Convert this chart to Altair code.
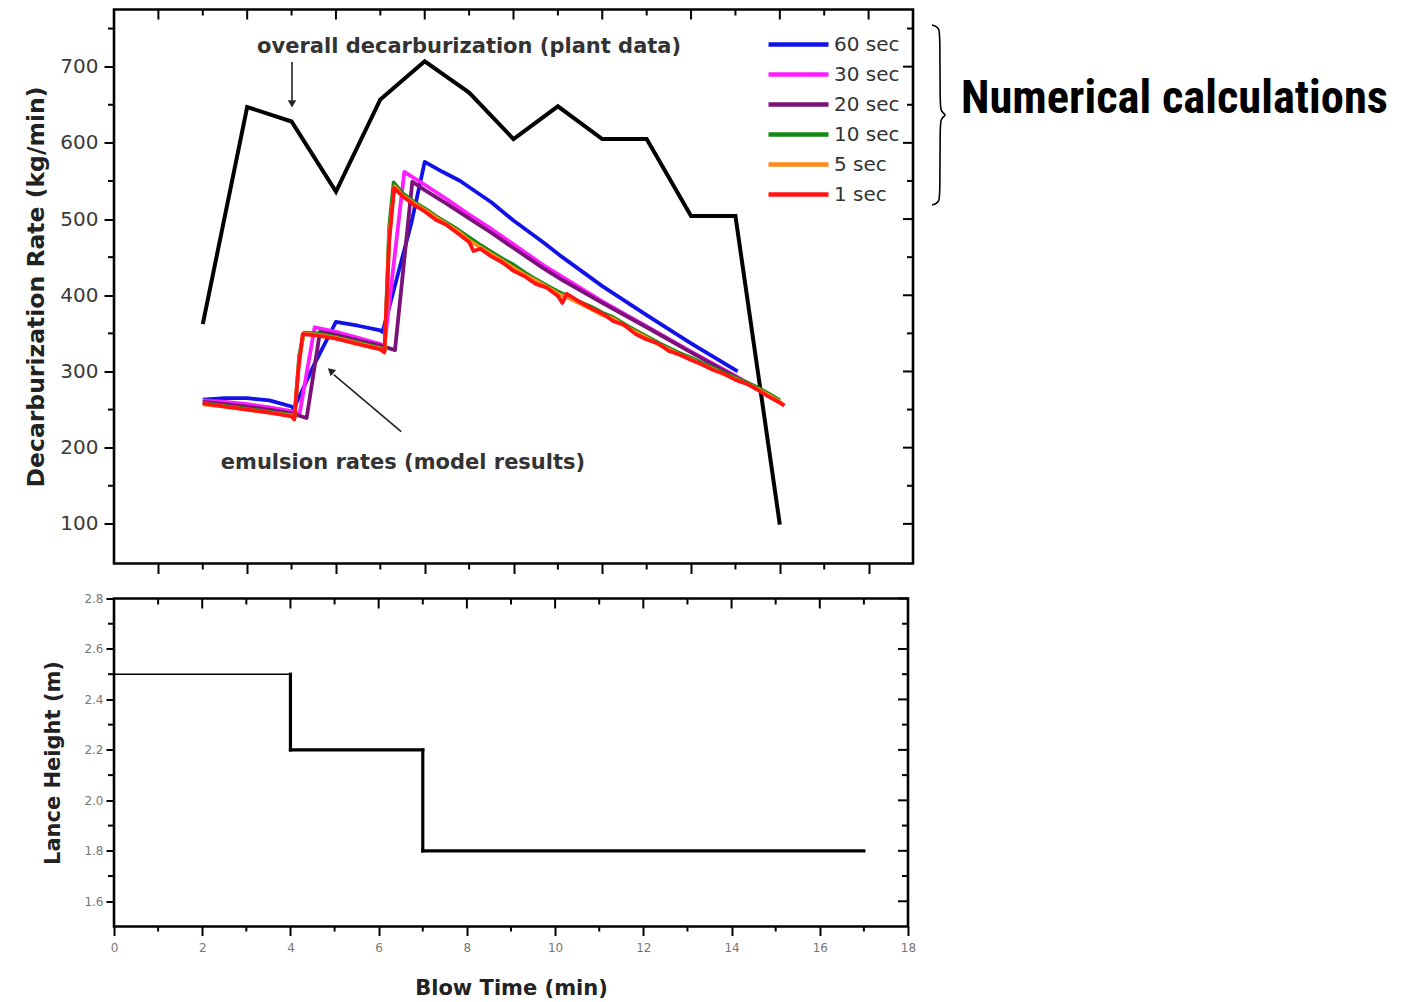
import altair as alt
import pandas as pd

# ---------------- data ----------------
# overall decarburization rate from plant data (kg/min)
PLANT_T = [2, 3, 4, 5, 6, 7, 8, 9, 10, 11, 12, 13, 14, 15]
PLANT_RATE = [362, 647, 628, 536, 657, 707, 666, 605, 648, 605, 605, 504, 504, 99]

# emulsion decarburization rates from the model, per time step
SERIES = ["60 sec", "30 sec", "20 sec", "10 sec", "5 sec", "1 sec"]
COLORS = ["#1212e8", "#ff1cff", "#7a127a", "#138a13", "#ff8a1a", "#ff1414"]

T_60 = [2.0, 2.5, 3.0, 3.5, 4.0, 4.05, 4.5, 5.0, 5.5, 6.0, 6.05, 6.25, 6.7, 7.0,
        7.4, 7.8, 8.5, 9.0, 9.66, 10.1, 11.0, 12.0, 13.0, 14.05]
R_60 = [263, 265, 265, 262, 254, 251, 308, 365, 360, 354, 352, 395, 495, 575,
        562, 550, 522, 498, 470, 450, 412, 374, 337, 300]

T_30 = [2.0, 2.5, 3.0, 3.5, 4.0, 4.18, 4.52, 5.0, 5.5, 6.0, 6.09, 6.54, 7.0, 7.5,
        8.0, 8.5, 9.0, 9.66, 10.1, 11.0, 12.0, 13.0, 14.0, 14.6]
R_30 = [262, 260, 257, 253, 248, 244, 358, 352, 344, 336, 333, 562, 545, 526,
        506, 487, 467, 440, 424, 392, 359, 326, 294, 274]

T_20 = [2.0, 2.5, 3.0, 3.5, 4.0, 4.34, 4.64, 5.0, 5.5, 6.0, 6.33, 6.72, 7.0, 7.5,
        8.0, 8.5, 9.0, 9.66, 10.1, 11.0, 12.0, 13.0, 14.0, 14.75]
R_20 = [260, 257, 254, 250, 245, 239, 352, 348, 341, 334, 328, 549, 538, 520,
        501, 482, 462, 436, 420, 390, 358, 325, 293, 268]

T_10 = [2.0, 2.5, 3.0, 3.5, 4.0, 4.07, 4.17, 4.28, 4.6, 5.0, 5.5, 6.0, 6.1, 6.2,
        6.3, 6.5, 6.75, 7.0, 7.25, 7.5, 7.75, 8.0, 8.25, 8.5, 8.75, 9.0, 9.25,
        9.5, 9.75, 10.0, 10.25, 10.5, 10.75, 11.0, 11.25, 11.5, 11.75, 12.0,
        12.25, 12.5, 12.75, 13.0, 13.25, 13.5, 13.75, 14.0, 14.25, 14.5, 14.75, 15.0]
R_10 = [259, 255, 251, 247, 243, 239, 320, 351, 350, 345, 338, 331, 328, 490,
        548, 534, 523, 514, 504, 495, 486, 476, 466, 457, 448, 440, 430,
        421, 413, 405, 398, 391, 385, 377, 371, 362, 354, 346,
        338, 331, 324, 318, 311, 305, 298, 292, 286, 279, 271, 262]

T_5 = [2.0, 2.5, 3.0, 3.5, 4.0, 4.06, 4.16, 4.27, 4.6, 5.0, 5.5, 6.0, 6.1, 6.2,
       6.32, 6.5, 6.75, 7.0, 7.25, 7.5, 7.75, 8.0, 8.25, 8.5, 8.75, 9.0, 9.25,
       9.5, 9.75, 10.0, 10.25, 10.5, 10.75, 11.0, 11.25, 11.5, 11.75, 12.0,
       12.25, 12.5, 12.75, 13.0, 13.25, 13.5, 13.75, 14.0, 14.25, 14.5, 14.75, 15.0, 15.1]
R_5 = [257, 254, 250, 246, 242, 238, 310, 350, 348, 344, 337, 330, 327, 480,
       543, 531, 521, 512, 502, 493, 484, 472, 463, 454, 445, 436, 427,
       419, 411, 402, 396, 389, 382, 374, 369, 360, 352, 344,
       336, 329, 322, 316, 309, 303, 296, 290, 284, 277, 269, 260, 256]

T_1 = [2.0, 2.5, 3.0, 3.5, 4.0, 4.06, 4.15, 4.25, 4.6, 5.0, 5.5, 6.0, 6.09, 6.2,
       6.31, 6.5, 6.75, 7.0, 7.25, 7.5, 7.75, 8.0, 8.1, 8.25, 8.5, 8.75, 9.0,
       9.25, 9.5, 9.75, 10.0, 10.1, 10.2, 10.5, 10.75, 11.0, 11.25, 11.5, 11.75,
       12.0, 12.25, 12.5, 12.75, 13.0, 13.25, 13.5, 13.75, 14.0, 14.25, 14.5,
       14.75, 15.0, 15.1]
R_1 = [258, 254, 250, 246, 241, 237, 300, 349, 347, 343, 336, 329, 325, 470,
       541, 530, 519, 510, 499, 492, 481, 470, 458, 461, 451, 443, 432,
       425, 415, 410, 399, 390, 402, 391, 383, 376, 366, 361, 349,
       342, 337, 327, 322, 315, 309, 302, 297, 289, 284, 276,
       267, 259, 255]

MODEL = {"60 sec": (T_60, R_60), "30 sec": (T_30, R_30), "20 sec": (T_20, R_20),
         "10 sec": (T_10, R_10), "5 sec": (T_5, R_5), "1 sec": (T_1, R_1)}

# lance height program (m): horizontal segments
LANCE_START = [0, 4, 7]
LANCE_END = [4, 7, 17]
LANCE_HEIGHT = [2.5, 2.2, 1.8]

# axis ticks
TOP_X_MAJOR = [1, 3, 5, 7, 9, 11, 13, 15, 17]
TOP_X_MINOR = [2, 4, 6, 8, 10, 12, 14, 16]
TOP_Y_MAJOR = [100, 200, 300, 400, 500, 600, 700]
TOP_Y_MINOR = [150, 250, 350, 450, 550, 650, 750]
BOT_X_MAJOR = [0, 2, 4, 6, 8, 10, 12, 14, 16, 18]
BOT_X_MINOR = [1, 3, 5, 7, 9, 11, 13, 15, 17]
BOT_Y_MAJOR = [1.6, 1.8, 2.0, 2.2, 2.4, 2.6, 2.8]
BOT_Y_MINOR = [1.7, 1.9, 2.1, 2.3, 2.5, 2.7]

# ---------------- layout constants ----------------
X_DOMAIN = [0, 18]
TOP_Y_DOMAIN = [48, 775]
BOT_Y_DOMAIN = [1.5, 2.8]
TOP_W, TOP_H = 799, 554
BOT_W, BOT_H = 794, 328
FONT = "DejaVu Sans"
MAJ, MIN, TW = 10, 6, 2

xs_top = alt.Scale(domain=X_DOMAIN, nice=False, zero=False)
ys_top = alt.Scale(domain=TOP_Y_DOMAIN, nice=False, zero=False)
xs_bot = alt.Scale(domain=X_DOMAIN, nice=False, zero=False)
ys_bot = alt.Scale(domain=BOT_Y_DOMAIN, nice=False, zero=False)


def px_to_top(px, py):
    """Convert a position inside the upper plot (pixels) to data units."""
    t = px / TOP_W * (X_DOMAIN[1] - X_DOMAIN[0]) + X_DOMAIN[0]
    v = TOP_Y_DOMAIN[1] - py / TOP_H * (TOP_Y_DOMAIN[1] - TOP_Y_DOMAIN[0])
    return t, v


# ---------------- upper panel ----------------
plant_df = pd.DataFrame({"t": PLANT_T, "v": PLANT_RATE})
rows = []
for s in SERIES:
    ts, rs = MODEL[s]
    for i, (t, r) in enumerate(zip(ts, rs)):
        rows.append({"series": s, "t": t, "v": r, "i": i})
model_df = pd.DataFrame(rows)

x_top_axis = alt.Axis(values=TOP_X_MAJOR, labels=False, title=None, domain=False,
                      grid=False, ticks=True, tickSize=MAJ, tickWidth=TW,
                      tickColor="black")
y_top_axis = alt.Axis(values=TOP_Y_MAJOR, title="Decarburization Rate (kg/min)",
                      domain=False, grid=False, ticks=True, tickSize=MAJ,
                      tickWidth=TW, tickColor="black", labelFont=FONT,
                      labelFontSize=20, labelColor="#3a3a3a", labelPadding=6,
                      labelFlush=False,
                      titleFont=FONT, titleFontSize=23.5, titleFontWeight="bold",
                      titleColor="#222", titlePadding=11)

plant = alt.Chart(plant_df).mark_line(color="black", strokeWidth=4,
                                      strokeJoin="miter").encode(
    x=alt.X("t:Q", scale=xs_top, axis=x_top_axis),
    y=alt.Y("v:Q", scale=ys_top, axis=y_top_axis),
)

model = alt.Chart(model_df).mark_line(strokeWidth=3.8, strokeJoin="round").encode(
    x=alt.X("t:Q", scale=xs_top),
    y=alt.Y("v:Q", scale=ys_top),
    color=alt.Color("series:N", sort=SERIES,
                    scale=alt.Scale(domain=SERIES, range=COLORS),
                    legend=alt.Legend(orient="none", legendX=652, legendY=20,
                                      title=None, symbolType="stroke",
                                      symbolSize=3600, symbolStrokeWidth=4.5,
                                      clipHeight=30, rowPadding=0,
                                      labelFont=FONT, labelFontSize=20,
                                      labelColor="#333", labelOffset=3,
                                      padding=0)),
    order=alt.Order("i:Q"),
)

# annotations with arrows
NOTE_TEXT = ["overall decarburization (plant data)", "emulsion rates (model results)"]
NOTE_T = [8.0, 6.51]
NOTE_V = [726, 180]
notes = alt.Chart(pd.DataFrame({"t": NOTE_T, "v": NOTE_V, "txt": NOTE_TEXT})).mark_text(
    font=FONT, fontSize=21, fontWeight="bold", color="#333", baseline="middle"
).encode(x=alt.X("t:Q", scale=xs_top), y=alt.Y("v:Q", scale=ys_top), text="txt:N")

ARROW_T = [4.01, 6.47]
ARROW_V = [706, 221]
ARROW_T2 = [4.01, 4.95]
ARROW_V2 = [656, 296]
shafts = alt.Chart(pd.DataFrame({"t": ARROW_T, "v": ARROW_V, "t2": ARROW_T2,
                                 "v2": ARROW_V2})).mark_rule(
    color="#222", strokeWidth=1.6).encode(
    x=alt.X("t:Q", scale=xs_top), y=alt.Y("v:Q", scale=ys_top), x2="t2:Q", y2="v2:Q")
HEAD_T = [4.01, 4.88]
HEAD_V = [651, 301]
HEAD_ANGLE = [180, 311]
heads = alt.Chart(pd.DataFrame({"t": HEAD_T, "v": HEAD_V, "a": HEAD_ANGLE})).mark_point(
    shape="triangle-up", filled=True, color="#222", size=70, opacity=1).encode(
    x=alt.X("t:Q", scale=xs_top), y=alt.Y("v:Q", scale=ys_top),
    angle=alt.Angle("a:Q", scale=None))


def tick_rules(values, field, scale, a, b, horizontal_axis=True):
    df = pd.DataFrame({field: values})
    if horizontal_axis:
        return alt.Chart(df).mark_rule(color="black", strokeWidth=TW, clip=False).encode(
            x=alt.X(f"{field}:Q", scale=scale), y=alt.value(a), y2=alt.value(b))
    return alt.Chart(df).mark_rule(color="black", strokeWidth=TW, clip=False).encode(
        y=alt.Y(f"{field}:Q", scale=scale), x=alt.value(a), x2=alt.value(b))


top_ticks = [
    tick_rules(TOP_X_MINOR, "t", xs_top, TOP_H, TOP_H + MIN),
    tick_rules(TOP_X_MAJOR, "t", xs_top, 0, MAJ),
    tick_rules(TOP_X_MINOR, "t", xs_top, 0, MIN),
    tick_rules(TOP_Y_MINOR, "v", ys_top, 0, -MIN, horizontal_axis=False),
    tick_rules(TOP_Y_MAJOR, "v", ys_top, TOP_W, TOP_W - MAJ, horizontal_axis=False),
    tick_rules(TOP_Y_MINOR, "v", ys_top, TOP_W, TOP_W - MIN, horizontal_axis=False),
]

# brace and side caption
BRACE_PX = [818, 822, 825, 826, 826, 827, 829, 832, 829, 827, 826, 826, 825, 822, 818]
BRACE_PY = [15.5, 16.5, 19.5, 24.5, 95.5, 100.5, 103.5, 105.5, 107.5, 110.5, 115.5,
            186.5, 191.5, 194.5, 195.5]
brace_pts = [px_to_top(px, py) for px, py in zip(BRACE_PX, BRACE_PY)]
brace_df = pd.DataFrame({"t": [p[0] for p in brace_pts], "v": [p[1] for p in brace_pts],
                         "i": list(range(len(brace_pts)))})
brace = alt.Chart(brace_df).mark_line(color="black", strokeWidth=1.6, clip=False,
                                      interpolate="basis").encode(
    x=alt.X("t:Q", scale=xs_top), y=alt.Y("v:Q", scale=ys_top), order="i:Q")

caption = alt.Chart(pd.DataFrame({"txt": ["Numerical calculations"]})).mark_text(
    font="Liberation Sans Narrow, Noto Sans Condensed, Roboto Condensed, Roboto",
    fontSize=46.5, fontWeight="bold", color="black",
    align="left", baseline="alphabetic", clip=False
).encode(x=alt.value(847), y=alt.value(103.5), text="txt:N")

top = alt.layer(plant, model, notes, shafts, heads, *top_ticks, brace, caption).properties(
    width=TOP_W, height=TOP_H)

# ---------------- lower panel ----------------
x_bot_axis = alt.Axis(values=BOT_X_MAJOR, title="Blow Time (min)", domain=False,
                      grid=False, tickSize=MAJ - 1, tickWidth=TW, tickColor="black",
                      labelFont=FONT, labelFontSize=12, labelColor="#777",
                      labelPadding=7, labelFlush=False,
                      titleFont=FONT, titleFontSize=21,
                      titleFontWeight="bold", titleColor="#222", titlePadding=24)
y_bot_axis = alt.Axis(values=BOT_Y_MAJOR, format=".1f", title="Lance Height (m)",
                      domain=False, grid=False, tickSize=MAJ - 2, tickWidth=TW,
                      tickColor="black", labelFont=FONT, labelFontSize=12,
                      labelColor="#777", labelPadding=3, labelFlush=False,
                      titleFont=FONT,
                      titleFontSize=21, titleFontWeight="bold", titleColor="#222",
                      titlePadding=20)

seg_df = pd.DataFrame({"t": LANCE_START, "t2": LANCE_END, "h": LANCE_HEIGHT,
                       "w": [1.5, 3.2, 3.2]})
flats = alt.Chart(seg_df).mark_rule(color="black", strokeCap="square").encode(
    x=alt.X("t:Q", scale=xs_bot, axis=x_bot_axis), x2="t2:Q",
    y=alt.Y("h:Q", scale=ys_bot, axis=y_bot_axis),
    strokeWidth=alt.StrokeWidth("w:Q", scale=None),
)
drop_df = pd.DataFrame({"t": LANCE_START[1:], "h": LANCE_HEIGHT[:-1],
                        "h2": LANCE_HEIGHT[1:]})
drops = alt.Chart(drop_df).mark_rule(color="black", strokeWidth=3.2,
                                     strokeCap="square").encode(
    x=alt.X("t:Q", scale=xs_bot), y=alt.Y("h:Q", scale=ys_bot), y2="h2:Q")

bot_ticks = [
    tick_rules(BOT_X_MINOR, "t", xs_bot, BOT_H, BOT_H + MIN - 1),
    tick_rules(BOT_X_MAJOR, "t", xs_bot, 0, MAJ),
    tick_rules(BOT_X_MINOR, "t", xs_bot, 0, MIN),
    tick_rules(BOT_Y_MINOR, "h", ys_bot, 0, -MIN, horizontal_axis=False),
    tick_rules(BOT_Y_MAJOR, "h", ys_bot, BOT_W, BOT_W - MAJ, horizontal_axis=False),
    tick_rules(BOT_Y_MINOR, "h", ys_bot, BOT_W, BOT_W - MIN, horizontal_axis=False),
]

bottom = alt.layer(flats, drops, *bot_ticks).properties(width=BOT_W, height=BOT_H)

chart = alt.vconcat(top, bottom, spacing=14).properties(
    padding={"left": 23, "top": 6.5, "right": 5, "bottom": 5},
    background="white",
).configure_view(stroke="black", strokeWidth=2.6)

chart.save("out.html", embed_options={"renderer": "svg", "actions": False})
